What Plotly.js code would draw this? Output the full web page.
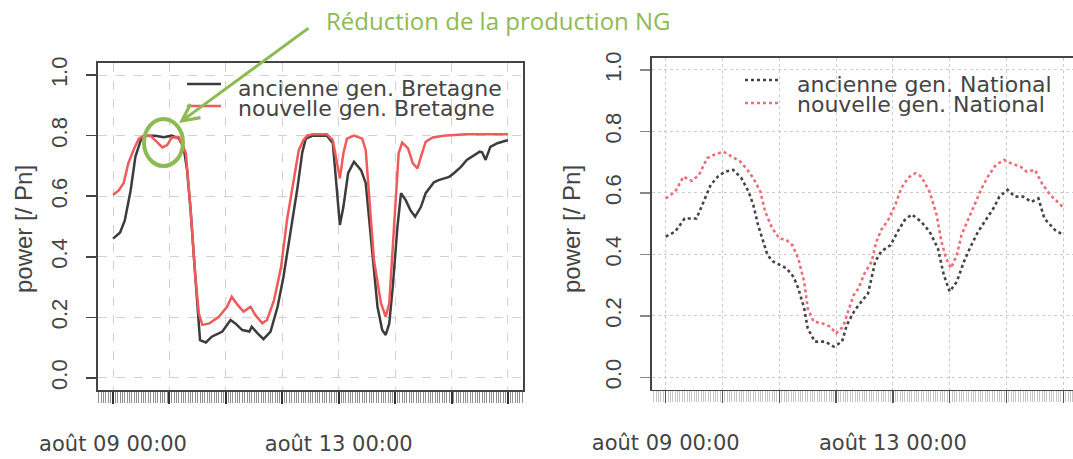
<!DOCTYPE html>
<html>
<head>
<meta charset="utf-8">
<script src="https://cdn.plot.ly/plotly-3.0.1.min.js"></script>
<style>html,body{margin:0;padding:0;background:#fff;}#chart{width:1073px;height:459px;}</style>
</head>
<body>
<div id="chart"></div>
<script>
// ---- DATA (hours since août 09 00:00) ----
const dayTicks = [0, 24, 48, 72, 96, 120, 144, 168];
const dayTickText = ['août 09 00:00', '', '', '', 'août 13 00:00', '', '', ''];
const yTicks = [0, 0.2, 0.4, 0.6, 0.8, 1.0];
const yTickText = ['0.0', '0.2', '0.4', '0.6', '0.8', '1.0'];

const bretagneAncienneH = [0,3,5,7.5,9.5,12,14,18,21.5,25,28,30,31.5,33,34.5,36,37,39.5,42,46.5,50,52,55,58,59,61.5,64,67,70,72.5,75.5,78.5,80.5,82,85,91,93.5,95,96.5,98,100,102.5,105.5,107.5,109,110.5,112.5,114.5,116,117.5,119,121,122.5,124.5,126.5,128.5,131,133,135,136.5,138.5,140.5,143,145,148,150.5,153.5,156,157,158.5,160.5,163.5,167,168];
const bretagneAncienneV = [0.46,0.48,0.52,0.62,0.73,0.79,0.80,0.80,0.795,0.80,0.79,0.763,0.686,0.554,0.389,0.213,0.125,0.117,0.136,0.153,0.191,0.18,0.158,0.153,0.169,0.147,0.128,0.153,0.235,0.334,0.478,0.63,0.745,0.79,0.80,0.80,0.775,0.63,0.505,0.565,0.676,0.714,0.686,0.643,0.521,0.389,0.235,0.158,0.142,0.18,0.301,0.50,0.61,0.587,0.554,0.532,0.565,0.61,0.63,0.646,0.653,0.657,0.664,0.676,0.697,0.72,0.736,0.747,0.745,0.72,0.763,0.775,0.783,0.785];

const bretagneNouvelleH = [0,2.5,4.5,6.5,9,11,13,16,18.5,21,23,25,28,31,33,35,36.5,38,41,45,48.5,50.5,53,55.5,58.5,60.5,63.5,65.5,68.5,71.5,74,77,79,81,82.5,85,91,93.5,95.5,96.5,98,99.5,102.5,106,107.5,109,111,114,116,117.5,119,120.5,121.5,123,125.5,127.5,129.5,131,133,136,140.5,150,168];
const bretagneNouvelleV = [0.604,0.62,0.643,0.709,0.758,0.79,0.80,0.799,0.78,0.761,0.769,0.794,0.795,0.742,0.554,0.334,0.213,0.175,0.18,0.202,0.235,0.268,0.241,0.219,0.235,0.208,0.18,0.191,0.257,0.367,0.521,0.664,0.752,0.785,0.80,0.805,0.805,0.785,0.709,0.659,0.742,0.79,0.80,0.79,0.752,0.587,0.389,0.246,0.202,0.246,0.433,0.63,0.742,0.777,0.758,0.709,0.692,0.731,0.78,0.794,0.80,0.805,0.805];

const nationalAncienneH = [0,4,8,13,16,19,22,25,28.5,32,35,37,39,41.5,43,45.5,48.5,51,54,56,58.5,60,63,67.5,71,74.5,76.5,79.5,81.5,85.5,88.5,91,95,98,101,104,108,111.5,115,117.5,120,123,126,128.5,132,135.5,138.5,141,144.5,147.5,151,154.5,157.5,160,164.5,168];
const nationalAncienneV = [0.458,0.474,0.517,0.517,0.571,0.626,0.653,0.669,0.675,0.648,0.604,0.561,0.496,0.43,0.398,0.376,0.365,0.355,0.327,0.29,0.225,0.159,0.116,0.116,0.10,0.116,0.17,0.213,0.235,0.273,0.376,0.409,0.43,0.474,0.512,0.53,0.506,0.474,0.42,0.333,0.279,0.311,0.376,0.42,0.474,0.517,0.55,0.588,0.61,0.588,0.588,0.571,0.582,0.517,0.479,0.463];

const nationalNouvelleH = [0,4,7.5,11,14,17.5,21,24.5,28,31.5,34.5,37,40,42,45,48,51,53.5,56,58.5,60,62.5,66,69.5,72,75,77.5,79.5,81.5,84,87,89,91,94,97,99.5,102.5,105.5,108,111.5,114.5,116.5,118.5,120.5,123,125,128,130.5,133.5,136.5,139.5,143,146,150,152.5,156,159,162.5,167.5,168];
const nationalNouvelleV = [0.582,0.604,0.653,0.639,0.658,0.713,0.726,0.734,0.718,0.702,0.675,0.648,0.604,0.539,0.485,0.452,0.447,0.43,0.387,0.311,0.225,0.181,0.176,0.165,0.143,0.165,0.225,0.268,0.29,0.338,0.376,0.441,0.479,0.512,0.561,0.615,0.65,0.664,0.653,0.604,0.528,0.441,0.387,0.355,0.398,0.463,0.517,0.561,0.615,0.658,0.691,0.707,0.696,0.685,0.669,0.675,0.631,0.593,0.555,0.553];

const legendLeft = ['ancienne gen. Bretagne', 'nouvelle gen. Bretagne'];
const legendRight = ['ancienne gen. National', 'nouvelle gen. National'];
const yTitle = 'power [/ Pn]';
const calloutText = 'Réduction de la production NG';

// ---- STYLE ----
const W = 1073, H = 459;
const PX = x => x / W;
const PY = y => 1 - y / H;
const BLACK = '#3c3c3c', RED = '#f05a5a', GREEN = '#8dba52';
const tickFont = {family: 'DejaVu Sans, sans-serif', size: 21, color: '#444'};
const yTickFont = {family: 'Liberation Sans, Arial, sans-serif', size: 22, color: '#444'};

const traces = [
  {x: bretagneAncienneH, y: bretagneAncienneV, xaxis: 'x', yaxis: 'y', mode: 'lines', name: legendLeft[0],
   line: {color: BLACK, width: 2.5}},
  {x: bretagneNouvelleH, y: bretagneNouvelleV, xaxis: 'x', yaxis: 'y', mode: 'lines', name: legendLeft[1],
   line: {color: RED, width: 2.5}},
  {x: nationalAncienneH, y: nationalAncienneV, xaxis: 'x2', yaxis: 'y2', mode: 'lines', name: legendRight[0],
   line: {color: '#444', width: 2.6, dash: 'dot'}},
  {x: nationalNouvelleH, y: nationalNouvelleV, xaxis: 'x2', yaxis: 'y2', mode: 'lines', name: legendRight[1],
   line: {color: '#f06a78', width: 2.6, dash: 'dot'}}
];

function xAxis(domain, range, anchor, dotted) {
  return {
    domain: domain, range: range, anchor: anchor,
    tickmode: 'array', tickvals: dayTicks, ticktext: dayTickText,
    ticks: 'outside', ticklen: 12, tickwidth: dotted ? 1.5 : 2,
    tickcolor: dotted ? '#555' : '#333',
    tickfont: tickFont, ticklabelstandoff: 22,
    showgrid: true, gridcolor: dotted ? '#cccccc' : '#d2d2d2', griddash: dotted ? 'dot' : 'dash', gridwidth: 1,
    showline: true, mirror: true, linecolor: '#444', linewidth: 1.6,
    zeroline: false, fixedrange: true,
    minor: {tickmode: 'linear', tick0: 0, dtick: 1, ticks: 'outside',
            ticklen: 11, tickwidth: 1, tickcolor: dotted ? '#c6c6c6' : '#8e8e8e', showgrid: false}
  };
}
function yAxis(domain, anchor, dotted, mirror) {
  return {
    domain: domain, range: [-0.04, 1.04], anchor: anchor,
    tickmode: 'array', tickvals: yTicks, ticktext: yTickText, tickangle: -90,
    ticks: 'outside', ticklen: 10, tickwidth: 1.5, tickcolor: dotted ? '#888' : '#444',
    tickfont: yTickFont, ticklabelstandoff: 11,
    showgrid: true, gridcolor: dotted ? '#cccccc' : '#d2d2d2', griddash: dotted ? 'dot' : 'dash', gridwidth: 1,
    showline: true, mirror: mirror, linecolor: '#444', linewidth: 1.6,
    zeroline: false, fixedrange: true
  };
}

const legendFont = {family: 'DejaVu Sans, sans-serif', size: 22, color: '#444'};

const layout = {
  width: W, height: H,
  margin: {l: 0, r: 0, t: 0, b: 0},
  paper_bgcolor: '#fff', plot_bgcolor: '#fff',
  showlegend: false,
  xaxis: xAxis([PX(98), PX(523)], [-6.4, 174.4], 'y', false),
  yaxis: yAxis([PY(390), PY(63)], 'x', false, true),
  xaxis2: xAxis([PX(652), 1], [-5.8, 172.1], 'y2', true),
  yaxis2: yAxis([PY(389.6), PY(57.7)], 'x2', true, false),
  shapes: [
    // legend samples
    {type: 'line', xref: 'paper', yref: 'paper', x0: PX(187), x1: PX(221), y0: PY(84), y1: PY(84), line: {color: BLACK, width: 2.5}},
    {type: 'line', xref: 'paper', yref: 'paper', x0: PX(187), x1: PX(221), y0: PY(106), y1: PY(106), line: {color: RED, width: 2.5}},
    {type: 'line', xref: 'paper', yref: 'paper', x0: PX(745), x1: PX(780), y0: PY(80), y1: PY(80), line: {color: '#444', width: 2.6, dash: 'dot'}},
    {type: 'line', xref: 'paper', yref: 'paper', x0: PX(745), x1: PX(780), y0: PY(103), y1: PY(103), line: {color: '#f06a78', width: 2.6, dash: 'dot'}},
    // green highlight ellipse
    {type: 'circle', xref: 'paper', yref: 'paper', x0: PX(144), x1: PX(183), y0: PY(166), y1: PY(119), line: {color: GREEN, width: 4}}
  ],
  annotations: [
    {text: legendLeft[0], xref: 'paper', yref: 'paper', x: PX(236), y: PY(88), xanchor: 'left', yanchor: 'middle', showarrow: false, font: legendFont},
    {text: legendLeft[1], xref: 'paper', yref: 'paper', x: PX(236), y: PY(108.5), xanchor: 'left', yanchor: 'middle', showarrow: false, font: legendFont},
    {text: legendRight[0], xref: 'paper', yref: 'paper', x: PX(795), y: PY(84), xanchor: 'left', yanchor: 'middle', showarrow: false, font: legendFont},
    {text: legendRight[1], xref: 'paper', yref: 'paper', x: PX(795), y: PY(105), xanchor: 'left', yanchor: 'middle', showarrow: false, font: legendFont},
    {text: yTitle, xref: 'paper', yref: 'paper', x: PX(24), y: PY(229), xanchor: 'center', yanchor: 'middle', textangle: -90, showarrow: false,
     font: {family: 'Liberation Sans, Arial, sans-serif', size: 24, color: '#444'}},
    {text: yTitle, xref: 'paper', yref: 'paper', x: PX(572), y: PY(229), xanchor: 'center', yanchor: 'middle', textangle: -90, showarrow: false,
     font: {family: 'Liberation Sans, Arial, sans-serif', size: 24, color: '#444'}},
    {text: calloutText, xref: 'paper', yref: 'paper', x: PX(324), y: PY(21), xanchor: 'left', yanchor: 'middle', showarrow: false,
     font: {family: 'Open Sans, sans-serif', size: 24, color: GREEN}},
    {text: '', xref: 'paper', yref: 'paper', x: PX(179), y: PY(123), showarrow: true, axref: 'pixel', ayref: 'pixel',
     ax: 131, ay: -96, arrowhead: 5, arrowsize: 1.1, arrowwidth: 3, arrowcolor: GREEN, standoff: 0}
  ]
};

Plotly.newPlot('chart', traces, layout, {staticPlot: true, displayModeBar: false});
</script>
</body>
</html>
